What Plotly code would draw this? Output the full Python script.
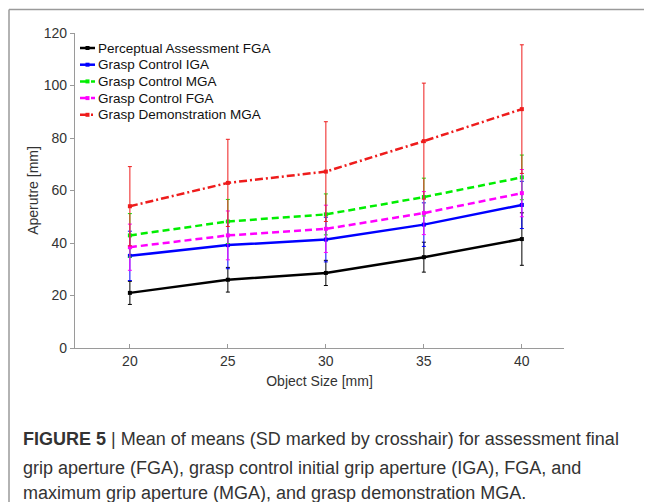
import plotly.graph_objects as go

object_size = [20, 25, 30, 35, 40]

series_names = [
    "Perceptual Assessment FGA",
    "Grasp Control IGA",
    "Grasp Control MGA",
    "Grasp Control FGA",
    "Grasp Demonstration MGA",
]

perceptual_fga = [21.0, 26.0, 28.6, 34.6, 41.5]
perceptual_fga_sd = [4.4, 4.7, 4.8, 5.7, 10.0]

control_iga = [35.1, 39.2, 41.3, 47.0, 54.5]
control_iga_sd = [9.4, 9.0, 8.5, 8.3, 9.0]

control_mga = [42.9, 48.2, 50.9, 57.5, 65.0]
control_mga_sd = [8.3, 8.4, 7.8, 7.2, 8.5]

control_fga = [38.4, 42.9, 45.4, 51.4, 59.0]
control_fga_sd = [8.8, 9.3, 9.0, 8.2, 9.0]

demo_mga = [54.0, 62.9, 67.2, 78.8, 91.0]
demo_mga_sd = [15.1, 16.6, 19.0, 22.1, 24.5]

x_ticks = [20, 25, 30, 35, 40]
y_ticks = [0, 20, 40, 60, 80, 100, 120]

caption_lines = [
    "<b>FIGURE 5</b> | Mean of means (SD marked by crosshair) for assessment final",
    "grip aperture (FGA), grasp control initial grip aperture (IGA), FGA, and",
    "maximum grip aperture (MGA), and grasp demonstration MGA.",
]

values = [perceptual_fga, control_iga, control_mga, control_fga, demo_mga]
sds = [perceptual_fga_sd, control_iga_sd, control_mga_sd, control_fga_sd, demo_mga_sd]
colors = ["#000000", "#0000ff", "#00ee00", "#ff00ff", "#ee1c1c"]
dashes = ["solid", "solid", "7px,4px", "7px,4px", "8px,3px,2px,3px"]

fig = go.Figure()
for name, v, sd, c, d in zip(series_names, values, sds, colors, dashes):
    fig.add_trace(go.Scatter(
        x=object_size, y=v, name=name, mode="lines+markers",
        line=dict(color=c, width=2.5, dash=d),
        marker=dict(symbol="square", size=4, color=c),
        error_y=dict(type="data", array=sd, visible=True, color=c, thickness=1, width=2),
        showlegend=False,
    ))

W, H = 652, 502
L, R, T, B = 67, 96, 25, 162
PW, PH = W - L - R, H - T - B


def px(xp):
    return (xp - L) / PW


def py(yp):
    return (H - B - yp) / PH


fig.update_layout(
    width=W, height=H,
    margin=dict(l=L, r=R, t=T, b=B),
    paper_bgcolor="white", plot_bgcolor="white",
    font=dict(family="Liberation Sans, Arial, sans-serif", color="#333333", size=14),
    showlegend=False,
    xaxis=dict(range=[17.2, 42.15], tickvals=x_ticks, showgrid=False, zeroline=False,
               showline=True, linecolor="#9a9a9a", linewidth=1.2,
               ticks="inside", ticklen=4, tickcolor="#9a9a9a",
               title=dict(text="Object Size [mm]", font=dict(size=14), standoff=8)),
    yaxis=dict(range=[0, 120], tickvals=y_ticks, showgrid=False, zeroline=False,
               showline=True, linecolor="#9a9a9a", linewidth=1.2,
               ticks="outside", ticklen=4, tickcolor="#9a9a9a",
               title=dict(text="Aperutre [mm]", font=dict(size=14), standoff=1)),
)

# legend (drawn manually for compact spacing)
leg_x0, leg_x1, leg_y0, leg_dy = 72, 87, 40, 16.7
for i, (name, c, d) in enumerate(zip(series_names, colors, dashes)):
    yy = leg_y0 + i * leg_dy
    fig.add_shape(type="line", xref="paper", yref="paper",
                  x0=px(leg_x0), x1=px(leg_x1), y0=py(yy), y1=py(yy),
                  line=dict(color=c, width=2.5, dash=d))
    cx = (leg_x0 + leg_x1) / 2
    fig.add_shape(type="rect", xref="paper", yref="paper",
                  x0=px(cx - 2), x1=px(cx + 2), y0=py(yy - 2), y1=py(yy + 2),
                  line=dict(width=0), fillcolor=c)
    fig.add_annotation(xref="paper", yref="paper", x=px(leg_x1 + 1), y=py(yy),
                       xanchor="left", yanchor="middle", showarrow=False,
                       text=name, font=dict(size=13.5, color="#111111"))

# outer frame lines (top and left)
fig.add_shape(type="line", xref="paper", yref="paper",
              x0=px(1), x1=px(W + 2), y0=py(1.5), y1=py(1.5),
              line=dict(color="#9a9a9a", width=1.5))
fig.add_shape(type="line", xref="paper", yref="paper",
              x0=px(1), x1=px(1), y0=py(1.5), y1=py(H + 2),
              line=dict(color="#9a9a9a", width=1.5))

caption_y = [431, 460, 485]
for txt, yy in zip(caption_lines, caption_y):
    fig.add_annotation(xref="paper", yref="paper",
                       x=px(13), y=py(yy),
                       xanchor="left", yanchor="middle", showarrow=False,
                       text=txt, font=dict(family="Liberation Sans Narrow, Liberation Sans, sans-serif",
                                           size=18, color="#333333"))

fig.write_html("out.html")
